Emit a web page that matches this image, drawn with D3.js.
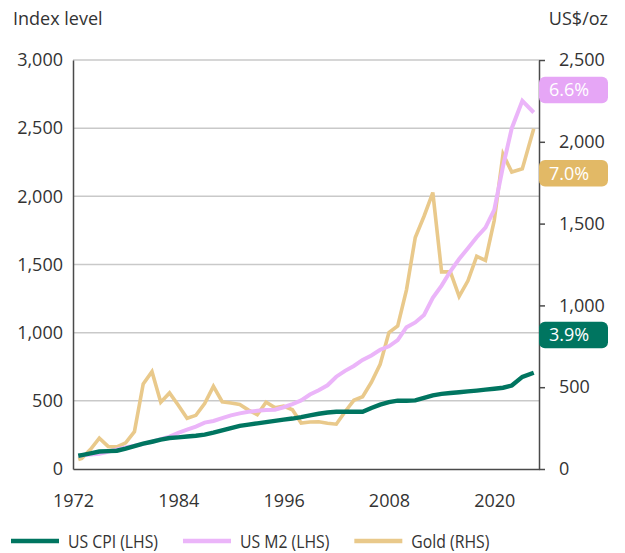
<!DOCTYPE html>
<meta charset="utf-8">
<style>
body { margin: 0; background: #fff; }
svg { display: block; font-family: "Open Sans", sans-serif; }
.grid line { stroke: #c9c9c9; stroke-width: 1.5px; }
.axis path, .axis line { stroke: #4a4a4a; stroke-width: 1.5px; }
.axis text { fill: #333; font-size: 18px; font-family: "Open Sans", sans-serif; }
.series { fill: none; stroke-linejoin: miter; }
</style>
<body>
<svg width="625" height="553"></svg>
<script src="https://cdn.jsdelivr.net/npm/d3@7"></script>
<script>

// observation dates as decimal years: first print, then year-end values 1972..2023
var dates = [1972.6].concat(d3.range(1973, 2023), [2023.2, 2024.5]);

// index levels (LHS)
var cpi = [97, 102, 115, 128, 131, 134, 150, 168, 186, 200,
  215, 227, 232, 238, 244, 252, 266, 283, 300, 316,
  326, 335, 344, 353, 362, 370, 380, 393, 405, 414,
  420, 420, 420, 420, 448, 472, 490, 501, 501, 503,
  522, 540, 551, 557, 563, 569, 575, 582, 589, 596,
  612, 676, 706];

var m2 = [97, 100, 107, 112, 127, 144, 158, 170, 184, 200,
  219, 238, 265, 288, 311, 340, 352, 373, 393, 408,
  420, 427, 433, 435, 453, 476, 503, 546, 578, 614,
  677, 720, 756, 800, 833, 875, 900, 945, 1040, 1075,
  1130, 1255, 1345, 1450, 1540, 1620, 1700, 1770, 1900, 2220,
  2500, 2700, 2615];

// gold, US$/oz (RHS)
var gold = [58, 65, 120, 188, 138, 135, 160, 228, 520, 595,
  408, 465, 390, 310, 328, 400, 505, 411, 404, 395,
  360, 332, 408, 375, 385, 362, 281, 287, 289, 280,
  274, 350, 420, 442, 530, 640, 834, 875, 1095, 1415,
  1545, 1690, 1205, 1205, 1055, 1150, 1300, 1275, 1520, 1925,
  1815, 1835, 2080];

var xTicks = [1972, 1984, 1996, 2008, 2020];
var leftTicks = [0, 500, 1000, 1500, 2000, 2500, 3000];
var rightTicks = [0, 500, 1000, 1500, 2000, 2500];

var seriesNames = ["US CPI (LHS)", "US M2 (LHS)", "Gold (RHS)"];
var growthLabels = ["3.9%", "6.6%", "7.0%"];

var svg = d3.select("svg");

var plotL = 73, plotR = 539, plotT = 60, plotB = 469;

var x = d3.scaleLinear().domain([1972, 2025.1]).range([plotL, plotR]);
var yL = d3.scaleLinear().domain([0, 3000]).range([plotB, plotT]);
var yR = d3.scaleLinear().domain([0, 2500]).range([plotB, plotT]);

var colors = { cpi: "#007560", m2: "#ebb5f9", gold: "#e9c98b" };
var tagColors = ["#007560", "#e6a6f6", "#e2b966"];

// gridlines
svg.append("g").attr("class", "grid")
  .selectAll("line").data(leftTicks.slice(1)).enter().append("line")
    .attr("x1", plotL).attr("x2", plotR)
    .attr("y1", d => yL(d)).attr("y2", d => yL(d));

// axes
var gL = svg.append("g").attr("class", "axis")
  .attr("transform", "translate(" + plotL + ",0)")
  .call(d3.axisLeft(yL).tickValues(leftTicks).tickFormat(d3.format(","))
    .tickSize(0).tickPadding(10));
gL.selectAll(".tick line").remove();

var gR = svg.append("g").attr("class", "axis")
  .attr("transform", "translate(" + plotR + ",0)")
  .call(d3.axisRight(yR).tickValues(rightTicks).tickFormat(d3.format(","))
    .tickSize(6).tickSizeOuter(0).tickPadding(14));

var gB = svg.append("g").attr("class", "axis")
  .attr("transform", "translate(0," + plotB + ")")
  .call(d3.axisBottom(x).tickValues(xTicks).tickFormat(d3.format("d"))
    .tickSize(0).tickPadding(25));

// axis titles
svg.append("text").attr("x", 13).attr("y", 25)
  .attr("font-size", 18).attr("fill", "#333").text("Index level");
svg.append("text").attr("x", 608).attr("y", 25).attr("text-anchor", "end")
  .attr("font-size", 18).attr("fill", "#333").text("US$/oz");

// lines: gold under M2 under CPI
var lineL = d3.line().x((d, i) => x(dates[i])).y(d => yL(d));
var lineR = d3.line().x((d, i) => x(dates[i])).y(d => yR(d));

svg.append("path").attr("class", "series").attr("d", lineR(gold))
  .attr("stroke", colors.gold).attr("stroke-width", 3.6);
svg.append("path").attr("class", "series").attr("d", lineL(m2))
  .attr("stroke", colors.m2).attr("stroke-width", 4);
svg.append("path").attr("class", "series").attr("d", lineL(cpi))
  .attr("stroke", colors.cpi).attr("stroke-width", 4.4);

// growth tags at the right edge (placed in LHS units)
var tagAt = [983, 2780, 2169];
var tag = svg.selectAll(".tag").data(growthLabels).enter().append("g")
  .attr("class", "tag")
  .attr("transform", (d, i) => "translate(" + plotR + "," + yL(tagAt[i]) + ")");
tag.append("rect").attr("x", 0).attr("y", -13.3).attr("width", 69).attr("height", 26.6)
  .attr("rx", 6).attr("fill", (d, i) => tagColors[i]);
tag.append("text").attr("x", 10).attr("y", 6.5)
  .attr("font-size", 18).attr("fill", "#fff").text(d => d);

// legend
var legendColors = [colors.cpi, colors.m2, colors.gold];
var lx = 11;
seriesNames.forEach(function (name, i) {
  var g = svg.append("g").attr("transform", "translate(" + lx + ",541)");
  g.append("line").attr("x1", 0).attr("x2", 48).attr("y1", 0).attr("y2", 0)
    .attr("stroke", legendColors[i]).attr("stroke-width", 4.5);
  var t = g.append("text").attr("x", 57).attr("y", 7)
    .attr("font-size", 19).attr("fill", "#333").text(name);
  var w = t.node().getComputedTextLength() * 0.83;
  t.attr("textLength", w).attr("lengthAdjust", "spacingAndGlyphs");
  lx += 57 + w + 25;
});

</script>
</body>
